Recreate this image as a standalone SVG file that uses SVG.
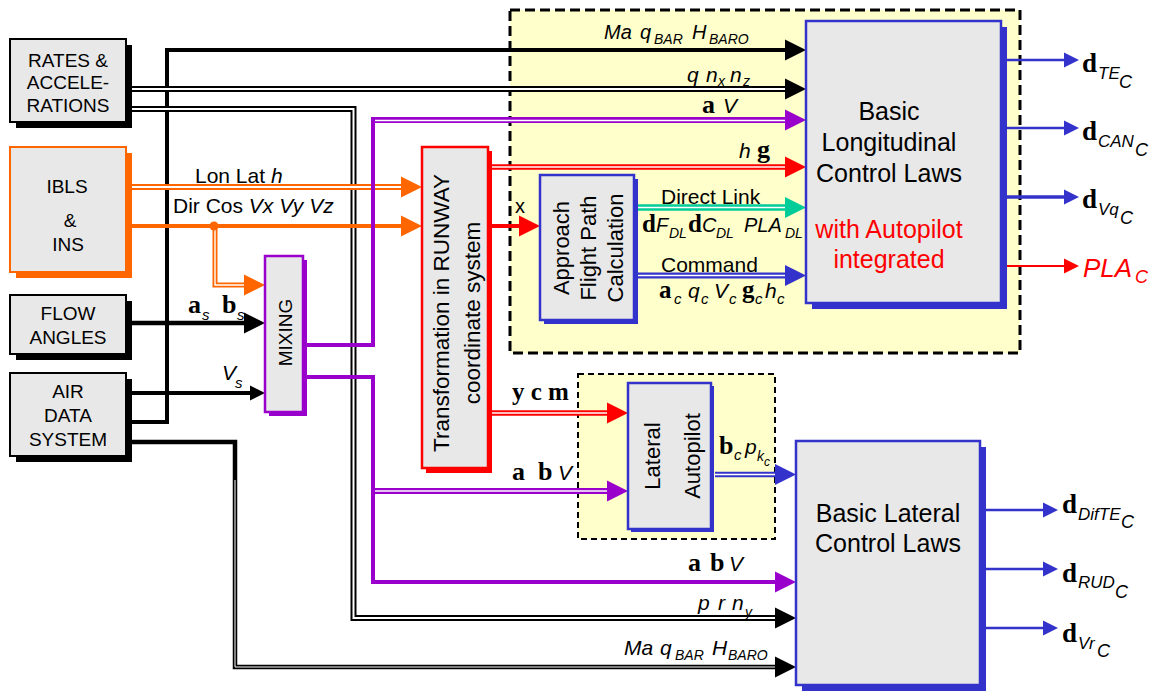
<svg xmlns="http://www.w3.org/2000/svg" width="1155" height="692" viewBox="0 0 1155 692">
<defs>
<style>
text{font-family:"Liberation Sans",Arial,sans-serif;fill:#000}
.it{font-style:italic}
.gr{font-family:"Liberation Serif","Times New Roman",serif;font-weight:bold;font-style:normal}
.box{fill:#e8e8e8}
.lbl{font-size:19px;text-anchor:middle}
.big{font-size:25px;text-anchor:middle}
.med{font-size:21px}
.ln{fill:none}
.wh{fill:none;stroke:#fff}
.k{stroke:#000}.o{stroke:#ff6600}.p{stroke:#9900cc}.r{stroke:#ff0000}.b{stroke:#3333cc}.g{stroke:#00cc99}
</style>
<path id="ah" d="M0,0 L-21,-10.5 L-21,10.5 Z"/>
<path id="am" d="M0,0 L-15,-7.5 L-15,7.5 Z"/>
</defs>
<rect width="1155" height="692" fill="#fff"/>

<g id="longitudinal-autopilot-region">
<rect x="510" y="10" width="510" height="343" fill="#ffffcc" stroke="#000" stroke-width="3" stroke-dasharray="10 5"/>
</g>
<g id="lateral-autopilot-region">
<rect x="578" y="374" width="197" height="165" fill="#ffffcc" stroke="#000" stroke-width="2" stroke-dasharray="6 4"/>
</g>

<g id="connectors">
<!-- black -->
<path class="ln k" stroke-width="4" d="M132,422H167V50H790"/>
<use href="#ah" x="806" y="50" fill="#000"/>
<path class="ln k" stroke-width="6" d="M132,89H792"/><path class="wh" stroke-width="2" d="M132,89H788"/>
<use href="#ah" x="806" y="89" fill="#000"/>
<path class="ln k" stroke-width="6" d="M132,109H353.5V618H782"/><path class="wh" stroke-width="2" d="M132,109H353.5V618H778"/>
<use href="#ah" x="796" y="618" fill="#000"/>
<path class="ln k" stroke-width="4.5" d="M132,442H235V667H782"/><path class="wh" stroke-width="1" d="M235,480V667H778"/>
<use href="#ah" x="796" y="667" fill="#000"/>
<path class="ln k" stroke-width="4.5" d="M132,323H250"/>
<use href="#ah" x="265" y="323" fill="#000"/>
<path class="ln k" stroke-width="4" d="M132,393H255"/>
<use href="#am" x="265" y="393" fill="#000"/>
<!-- orange -->
<path class="ln o" stroke-width="6" d="M132,187H405"/><path class="wh" stroke-width="2" d="M132,187H402"/>
<use href="#ah" x="422" y="187" fill="#ff6600"/>
<path class="ln o" stroke-width="4" d="M132,226H405"/>
<use href="#ah" x="422" y="226" fill="#ff6600"/>
<path class="ln o" stroke-width="5" d="M215,226V285H250"/><path class="wh" stroke-width="1.4" d="M215,230V285H247"/>
<circle cx="214" cy="226" r="4.5" fill="#ff6600"/>
<use href="#ah" x="265" y="285" fill="#ff6600"/>
<!-- purple -->
<path class="ln p" stroke-width="4" d="M306,345H373V118"/>
<path class="ln p" stroke-width="6" d="M371,120H790"/><path class="wh" stroke-width="1.5" d="M375,120.5H786"/>
<use href="#ah" x="806" y="120" fill="#9900cc"/>
<path class="ln p" stroke-width="4" d="M306,377H373V582H782"/>
<use href="#ah" x="796" y="582" fill="#9900cc"/>
<path class="ln p" stroke-width="6" d="M373,491H612"/><path class="wh" stroke-width="1.4" d="M375,491H608"/>
<use href="#ah" x="628" y="491" fill="#9900cc"/>
<!-- red -->
<path class="ln r" stroke-width="5.5" d="M492,167H790"/><path class="wh" stroke-width="1.4" d="M492,167H786"/>
<use href="#ah" x="806" y="167" fill="#ff0000"/>
<path class="ln r" stroke-width="4" d="M492,226H525"/>
<use href="#ah" x="540" y="226" fill="#ff0000"/>
<path class="ln r" stroke-width="5.5" d="M492,413H612"/><path class="wh" stroke-width="1.4" d="M492,413H608"/>
<use href="#ah" x="628" y="413" fill="#ff0000"/>
<!-- green / blue -->
<path class="ln g" stroke-width="6.5" d="M638,207.5H790"/><path class="wh" stroke-width="1.6" d="M638,207.5H786"/>
<use href="#ah" x="806" y="207.5" fill="#00cc99"/>
<path class="ln b" stroke-width="6" d="M638,275.5H790"/><path class="wh" stroke-width="1.6" d="M638,275.5H786"/>
<use href="#ah" x="806" y="275.5" fill="#3333cc"/>
<path class="ln b" stroke-width="5.6" d="M715,474.5H780"/><path class="wh" stroke-width="1.4" d="M715,474.5H776"/>
<use href="#ah" x="796" y="474.5" fill="#3333cc"/>
<!-- outputs -->
<path class="ln b" stroke-width="2.5" d="M1007,60H1066"/><use href="#am" x="1079" y="60" fill="#3333cc"/>
<path class="ln b" stroke-width="2.5" d="M1007,128H1066"/><use href="#am" x="1079" y="128" fill="#3333cc"/>
<path class="ln b" stroke-width="3.5" d="M1007,197H1066"/><use href="#am" x="1079" y="197" fill="#3333cc"/>
<path class="ln r" stroke-width="2" d="M1002,266H1066"/><use href="#am" x="1079" y="266" fill="#ff0000"/>
<path class="ln b" stroke-width="2.5" d="M986,510H1045"/><use href="#am" x="1058" y="510" fill="#3333cc"/>
<path class="ln b" stroke-width="2.5" d="M986,569H1045"/><use href="#am" x="1058" y="569" fill="#3333cc"/>
<path class="ln b" stroke-width="2.5" d="M986,628H1045"/><use href="#am" x="1058" y="628" fill="#3333cc"/>

<!-- connector labels -->
<text class="it" font-size="20" y="39"><tspan x="604">Ma</tspan><tspan x="640">q</tspan><tspan x="654" y="44" font-size="14">BAR</tspan><tspan x="692" y="39">H</tspan><tspan x="709" y="44" font-size="14">BARO</tspan></text>
<text class="it" font-size="21" y="82"><tspan x="687">q</tspan><tspan x="706">n</tspan><tspan x="718" y="86" font-size="14">x</tspan><tspan x="730" y="82">n</tspan><tspan x="743" y="86" font-size="14">z</tspan></text>
<text font-size="21" y="113"><tspan class="gr" font-size="26" x="702">a</tspan><tspan class="it" x="723">V</tspan></text>
<text font-size="21" y="158"><tspan class="it" x="739">h</tspan><tspan class="gr" font-size="26" x="757">g</tspan></text>
<text class="med" x="195" y="183">Lon Lat <tspan class="it">h</tspan></text>
<text class="med" x="173" y="213">Dir Cos <tspan class="it">Vx Vy Vz</tspan></text>
<text font-size="20" x="515" y="213">x</text>
<text class="med" x="661" y="204">Direct Link</text>
<text font-size="20" y="232"><tspan class="gr" font-size="25" x="642">d</tspan><tspan class="it" x="656">F</tspan><tspan class="it" x="669" y="238" font-size="14">DL</tspan><tspan class="gr" font-size="25" x="688" y="232">d</tspan><tspan class="it" x="702">C</tspan><tspan class="it" x="716" y="238" font-size="14">DL</tspan><tspan class="it" x="744" y="232">PLA</tspan><tspan class="it" x="785" y="238" font-size="14">DL</tspan></text>
<text class="med" x="661" y="272">Command</text>
<text font-size="21" y="298"><tspan class="gr" font-size="25" x="659">a</tspan><tspan class="it" x="674" y="304" font-size="15">c</tspan><tspan class="it" x="688" y="298">q</tspan><tspan class="it" x="701" y="304" font-size="15">c</tspan><tspan class="it" x="714" y="298">V</tspan><tspan class="it" x="729" y="304" font-size="15">c</tspan><tspan class="gr" font-size="25" x="742" y="298">g</tspan><tspan class="it" x="755" y="304" font-size="15">c</tspan><tspan class="it" x="765" y="298">h</tspan><tspan class="it" x="777" y="304" font-size="15">c</tspan></text>
<text class="gr" font-size="25" x="512" y="400">y c m</text>
<text font-size="21" y="480"><tspan class="gr" font-size="26" x="512">a</tspan><tspan class="gr" font-size="26" x="538">b</tspan><tspan class="it" x="558">V</tspan></text>
<text font-size="21" y="454"><tspan class="gr" font-size="26" x="719">b</tspan><tspan class="it" x="734" y="460" font-size="15">c</tspan><tspan class="it" x="745" y="454">p</tspan><tspan class="it" x="757" y="461" font-size="14">k</tspan><tspan class="it" x="764" y="466" font-size="12">c</tspan></text>
<text font-size="21" y="313"><tspan class="gr" font-size="26" x="188">a</tspan><tspan class="it" x="202" y="320" font-size="15">s</tspan><tspan class="gr" font-size="26" x="222" y="313">b</tspan><tspan class="it" x="237" y="320" font-size="15">s</tspan></text>
<text font-size="21" y="380"><tspan class="it" x="222">V</tspan><tspan class="it" x="235" y="388" font-size="15">s</tspan></text>
<text font-size="21" y="571"><tspan class="gr" font-size="26" x="688">a</tspan><tspan class="gr" font-size="26" x="710">b</tspan><tspan class="it" x="729">V</tspan></text>
<text class="it" font-size="21" y="610"><tspan x="698">p</tspan><tspan x="718">r</tspan><tspan x="732">n</tspan><tspan x="745" y="617" font-size="14">y</tspan></text>
<text class="it" font-size="21" y="655"><tspan x="624">Ma</tspan><tspan x="660">q</tspan><tspan x="675" y="660" font-size="14">BAR</tspan><tspan x="712" y="655">H</tspan><tspan x="728" y="660" font-size="14">BARO</tspan></text>
<!-- output labels -->
<text y="72"><tspan class="gr" font-size="27" x="1082">d</tspan><tspan class="it" font-size="17" x="1098" y="79">TE</tspan><tspan class="it" font-size="18" x="1119" y="88">C</tspan></text>
<text y="140"><tspan class="gr" font-size="27" x="1082">d</tspan><tspan class="it" font-size="17" x="1098" y="147">CAN</tspan><tspan class="it" font-size="18" x="1135" y="156">C</tspan></text>
<text y="208"><tspan class="gr" font-size="27" x="1082">d</tspan><tspan class="it" font-size="17" x="1098" y="215">Vq</tspan><tspan class="it" font-size="18" x="1120" y="224">C</tspan></text>
<text class="it" y="277" style="fill:#ff0000"><tspan font-size="26" x="1083">PLA</tspan><tspan font-size="18" x="1135" y="283">C</tspan></text>
<text y="513"><tspan class="gr" font-size="27" x="1062">d</tspan><tspan class="it" font-size="17" x="1078" y="520">DifTE</tspan><tspan class="it" font-size="18" x="1121" y="528">C</tspan></text>
<text y="582"><tspan class="gr" font-size="27" x="1062">d</tspan><tspan class="it" font-size="17" x="1078" y="588">RUD</tspan><tspan class="it" font-size="18" x="1115" y="598">C</tspan></text>
<text y="642"><tspan class="gr" font-size="27" x="1062">d</tspan><tspan class="it" font-size="17" x="1078" y="649">Vr</tspan><tspan class="it" font-size="18" x="1097" y="657">C</tspan></text>
</g>

<g id="rates-accelerations">
<rect x="16" y="45" width="116" height="83" fill="#000"/>
<rect class="box" x="10" y="39" width="116" height="83" stroke="#000" stroke-width="2"/>
<text class="lbl" x="68" y="67">RATES &amp;</text>
<text class="lbl" x="68" y="89">ACCELE-</text>
<text class="lbl" x="68" y="112">RATIONS</text>
</g>
<g id="ibls-ins">
<rect x="16" y="153" width="116" height="125" fill="#ff6600"/>
<rect class="box" x="10" y="147" width="116" height="125" stroke="#ff6600" stroke-width="2"/>
<text class="lbl" x="67" y="193">IBLS</text>
<text class="lbl" x="70" y="227">&amp;</text>
<text class="lbl" x="68" y="251">INS</text>
</g>
<g id="flow-angles">
<rect x="16" y="301" width="116" height="59" fill="#000"/>
<rect class="box" x="10" y="295" width="116" height="59" stroke="#000" stroke-width="2"/>
<text class="lbl" x="68" y="320">FLOW</text>
<text class="lbl" x="68" y="344">ANGLES</text>
</g>
<g id="air-data-system">
<rect x="16" y="379" width="116" height="83" fill="#000"/>
<rect class="box" x="10" y="373" width="116" height="83" stroke="#000" stroke-width="2"/>
<text class="lbl" x="68" y="398">AIR</text>
<text class="lbl" x="68" y="422">DATA</text>
<text class="lbl" x="68" y="446">SYSTEM</text>
</g>
<g id="mixing">
<rect x="269" y="260" width="38" height="156" fill="#9900cc"/>
<rect class="box" x="265" y="256" width="38" height="156" stroke="#9900cc" stroke-width="2.5"/>
<text font-size="19" text-anchor="middle" transform="translate(292,332.5) rotate(-90)">MIXING</text>
</g>
<g id="transformation">
<rect x="426" y="151" width="66" height="322" fill="#ff0000"/>
<rect class="box" x="422" y="147" width="66" height="321" stroke="#ff0000" stroke-width="2.5"/>
<text font-size="22.5" text-anchor="middle" transform="translate(449,313) rotate(-90)">Transformation in RUNWAY</text>
<text font-size="22.5" text-anchor="middle" transform="translate(480,313) rotate(-90)">coordinate system</text>
</g>
<g id="approach-flight-path">
<rect x="544" y="179" width="94" height="145" fill="#3333cc"/>
<rect class="box" x="540" y="175" width="94" height="145" stroke="#3333cc" stroke-width="2.5"/>
<text font-size="22" text-anchor="middle" transform="translate(569,248) rotate(-90)">Approach</text>
<text font-size="22" text-anchor="middle" transform="translate(596,248) rotate(-90)">Flight Path</text>
<text font-size="22" text-anchor="middle" transform="translate(623,248) rotate(-90)">Calculation</text>
</g>
<g id="lateral-autopilot">
<rect x="631" y="386" width="83" height="146" fill="#3333cc"/>
<rect class="box" x="628" y="383" width="83" height="146" stroke="#3333cc" stroke-width="2.5"/>
<text font-size="22" text-anchor="middle" transform="translate(660,456) rotate(-90)">Lateral</text>
<text font-size="22" text-anchor="middle" transform="translate(700,456) rotate(-90)">Autopilot</text>
</g>
<g id="basic-longitudinal">
<rect x="812" y="27" width="195" height="282" fill="#3333cc"/>
<rect class="box" x="806" y="21" width="195" height="282" stroke="#3333cc" stroke-width="2.5"/>
<text class="big" x="889" y="120">Basic</text>
<text class="big" x="889" y="151">Longitudinal</text>
<text class="big" x="889" y="182">Control Laws</text>
<text class="big" x="889" y="238" style="fill:#ff0000">with Autopilot</text>
<text class="big" x="889" y="268" style="fill:#ff0000">integrated</text>
</g>
<g id="basic-lateral">
<rect x="802" y="447" width="184" height="244" fill="#3333cc"/>
<rect class="box" x="796" y="441" width="184" height="244" stroke="#3333cc" stroke-width="2.5"/>
<text class="big" x="888" y="522">Basic Lateral</text>
<text class="big" x="888" y="552">Control Laws</text>
</g>
</svg>
